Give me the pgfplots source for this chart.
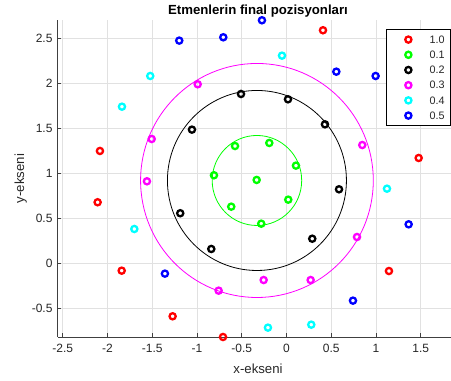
\documentclass[border=0pt]{standalone}
\usepackage{fontspec}
\setmainfont{Liberation Sans}
\usepackage{pgfplots}
\pgfplotsset{compat=1.18}
\definecolor{axgray}{RGB}{64,64,64}
\definecolor{txtgray}{RGB}{38,38,38}
\definecolor{gridgray}{RGB}{225,225,225}
\definecolor{mred}{RGB}{255,0,0}
\definecolor{mgreen}{RGB}{0,255,0}
\definecolor{mblack}{RGB}{0,0,0}
\definecolor{mmagenta}{RGB}{255,0,255}
\definecolor{mcyan}{RGB}{0,255,255}
\definecolor{mblue}{RGB}{0,0,255}
\begin{document}
\begin{tikzpicture}[x=1pt,y=1pt]
\useasboundingbox (0,0) rectangle (451,381);
\begin{axis}[
  at={(57.7pt,44pt)}, anchor=south west,
  scale only axis, width=400.8pt, height=317pt,
  xmin=-2.556, xmax=1.922, ymin=-0.819, ymax=2.703,
  axis x line*=bottom, axis y line*=left,
  axis line style={draw=axgray, line width=0.9pt, -},
  xtick={-2.5,-2,-1.5,-1,-0.5,0,0.5,1,1.5},
  xticklabels={-2.5,-2,-1.5,-1,-0.5,0,0.5,1,1.5},
  ytick={-0.5,0,0.5,1,1.5,2,2.5},
  yticklabels={-0.5,0,0.5,1,1.5,2,2.5},
  tick align=inside, major tick length=3.5pt,
  tick style={draw=axgray, line width=0.8pt},
  xticklabel style={anchor=north, inner sep=0pt, yshift=-7pt, font=\fontsize{12}{14}\selectfont, text=txtgray},
  yticklabel style={anchor=east, inner sep=0pt, xshift=-5pt, font=\fontsize{12}{14}\selectfont, text=txtgray},
  grid=major, major grid style={draw=gridgray, line width=0.7pt},
  clip mode=individual,
  legend style={at={(0.9795,0.9707)}, anchor=north east, draw=black, line width=0.6pt,
    fill=white, inner xsep=5.3pt, inner ysep=5pt,
    nodes={inner sep=0pt, text depth=0pt, font=\fontsize{10.8}{12}\selectfont, text=txtgray},
    row sep=5.2pt, column sep=12.3pt},
  legend cell align=left,
  legend image code/.code={\path[draw=none,fill=none] (-17.1pt,-5pt) rectangle (9pt,5pt); \draw[#1] plot coordinates {(0pt,0pt)};},
  every axis plot/.append style={only marks, mark=o, mark size=3.1pt, line width=2.3pt},
]
\draw[mgreen, line width=0.8pt] (axis cs:-0.33,0.92) circle [radius=0.5];
\draw[mblack, line width=0.8pt] (axis cs:-0.33,0.92) circle [radius=1.0];
\draw[mmagenta, line width=0.8pt] (axis cs:-0.33,0.92) circle [radius=1.3];
\addplot[mred] coordinates {(-2.084,1.248) (-2.110,0.678) (-1.841,-0.082) (-1.272,-0.589) (-0.709,-0.819) (0.408,2.589) (1.477,1.170) (1.145,-0.086)};
\addlegendentry{1.0}
\addplot[mgreen] coordinates {(-0.575,1.303) (-0.192,1.337) (0.106,1.085) (-0.333,0.926) (-0.810,0.978) (-0.617,0.629) (0.020,0.707) (-0.282,0.440)};
\addlegendentry{0.1}
\addplot[mblack] coordinates {(-0.508,1.881) (0.017,1.822) (0.430,1.544) (-1.056,1.485) (0.587,0.822) (-1.187,0.556) (-0.840,0.159) (0.288,0.273)};
\addlegendentry{0.2}
\addplot[mmagenta] coordinates {(-0.992,1.989) (-1.506,1.381) (-1.559,0.911) (0.847,1.314) (0.788,0.292) (-0.255,-0.186) (0.270,-0.186) (-0.758,-0.304)};
\addlegendentry{0.3}
\addplot[mcyan] coordinates {(-0.050,2.307) (-1.522,2.081) (-1.838,1.740) (-1.700,0.381) (1.123,0.829) (-0.207,-0.715) (0.277,-0.682)};
\addlegendentry{0.4}
\addplot[mblue] coordinates {(-1.198,2.474) (-0.706,2.511) (-0.274,2.700) (0.557,2.129) (0.996,2.081) (1.365,0.433) (0.743,-0.415) (-1.358,-0.115)};
\addlegendentry{0.5}
\end{axis}
\node[anchor=base, inner sep=0pt, font=\fontsize{13.2}{15}\selectfont\bfseries] at (258,366.7) {Etmenlerin final pozisyonları};
\node[anchor=base, inner sep=0pt, font=\fontsize{13.2}{15}\selectfont, text=txtgray] at (258,7.7) {x-ekseni};
\node[anchor=base, rotate=90, inner sep=0pt, font=\fontsize{13.2}{15}\selectfont, text=txtgray] at (24.2,202.5) {y-ekseni};
\end{tikzpicture}
\end{document}
